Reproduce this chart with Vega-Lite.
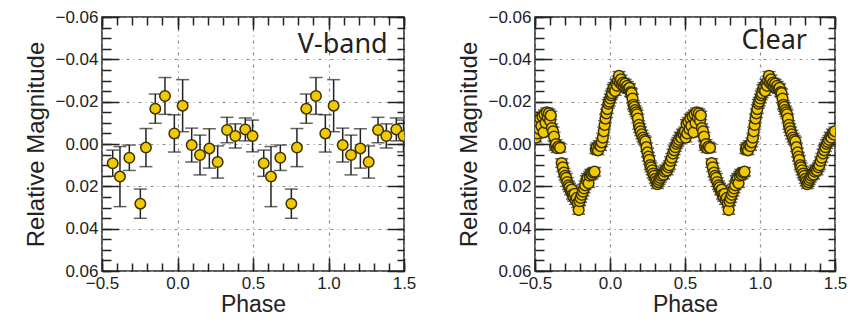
{
  "$schema": "https://vega.github.io/schema/vega-lite/v6.json",
  "padding": {"left": 24, "top": 7, "right": 4, "bottom": 4},
  "background": "white",
  "spacing": 40,
  "datasets": {
    "vband": [
      {"phase": -0.429, "mag": 0.0091, "err": 0.0062},
      {"phase": -0.381, "mag": 0.0154, "err": 0.0142},
      {"phase": -0.319, "mag": 0.0065, "err": 0.0060},
      {"phase": -0.246, "mag": 0.0282, "err": 0.0069},
      {"phase": -0.209, "mag": 0.0017, "err": 0.0090},
      {"phase": -0.147, "mag": -0.0167, "err": 0.0069},
      {"phase": -0.083, "mag": -0.0227, "err": 0.0087},
      {"phase": -0.021, "mag": -0.0050, "err": 0.0088},
      {"phase": 0.034, "mag": -0.0181, "err": 0.0123},
      {"phase": 0.094, "mag": 0.0005, "err": 0.0080},
      {"phase": 0.149, "mag": 0.0052, "err": 0.0094},
      {"phase": 0.211, "mag": 0.0021, "err": 0.0093},
      {"phase": 0.266, "mag": 0.0085, "err": 0.0076},
      {"phase": 0.328, "mag": -0.0066, "err": 0.0060},
      {"phase": 0.383, "mag": -0.0038, "err": 0.0057},
      {"phase": 0.449, "mag": -0.0069, "err": 0.0054},
      {"phase": 0.497, "mag": -0.0038, "err": 0.0075},
      {"phase": 0.571, "mag": 0.0091, "err": 0.0062},
      {"phase": 0.619, "mag": 0.0154, "err": 0.0142},
      {"phase": 0.681, "mag": 0.0065, "err": 0.0060},
      {"phase": 0.754, "mag": 0.0282, "err": 0.0069},
      {"phase": 0.791, "mag": 0.0017, "err": 0.0090},
      {"phase": 0.853, "mag": -0.0167, "err": 0.0069},
      {"phase": 0.917, "mag": -0.0227, "err": 0.0087},
      {"phase": 0.979, "mag": -0.0050, "err": 0.0088},
      {"phase": 1.034, "mag": -0.0181, "err": 0.0123},
      {"phase": 1.094, "mag": 0.0005, "err": 0.0080},
      {"phase": 1.149, "mag": 0.0052, "err": 0.0094},
      {"phase": 1.211, "mag": 0.0021, "err": 0.0093},
      {"phase": 1.266, "mag": 0.0085, "err": 0.0076},
      {"phase": 1.328, "mag": -0.0066, "err": 0.0060},
      {"phase": 1.383, "mag": -0.0038, "err": 0.0057},
      {"phase": 1.449, "mag": -0.0069, "err": 0.0054},
      {"phase": 1.497, "mag": -0.0038, "err": 0.0075}
    ],
    "clear": [
      {"phase": -0.500, "mag": -0.0065, "err": 0.002},
      {"phase": -0.495, "mag": -0.0030, "err": 0.002},
      {"phase": -0.490, "mag": -0.0095, "err": 0.002},
      {"phase": -0.485, "mag": -0.0050, "err": 0.002},
      {"phase": -0.478, "mag": -0.0105, "err": 0.002},
      {"phase": -0.470, "mag": -0.0070, "err": 0.002},
      {"phase": -0.465, "mag": -0.0120, "err": 0.002},
      {"phase": -0.458, "mag": -0.0085, "err": 0.002},
      {"phase": -0.450, "mag": -0.0130, "err": 0.002},
      {"phase": -0.443, "mag": -0.0055, "err": 0.002},
      {"phase": -0.437, "mag": -0.0140, "err": 0.002},
      {"phase": -0.430, "mag": -0.0100, "err": 0.002},
      {"phase": -0.422, "mag": -0.0150, "err": 0.002},
      {"phase": -0.415, "mag": -0.0125, "err": 0.002},
      {"phase": -0.408, "mag": -0.0145, "err": 0.002},
      {"phase": -0.400, "mag": -0.0110, "err": 0.002},
      {"phase": -0.395, "mag": -0.0135, "err": 0.002},
      {"phase": -0.388, "mag": -0.0075, "err": 0.002},
      {"phase": -0.380, "mag": -0.0060, "err": 0.002},
      {"phase": -0.373, "mag": -0.0035, "err": 0.002},
      {"phase": -0.366, "mag": 0.0010, "err": 0.002},
      {"phase": -0.360, "mag": 0.0000, "err": 0.002},
      {"phase": -0.352, "mag": 0.0020, "err": 0.002},
      {"phase": -0.343, "mag": 0.0012, "err": 0.002},
      {"phase": -0.333, "mag": 0.0018, "err": 0.002},
      {"phase": -0.322, "mag": 0.0090, "err": 0.002},
      {"phase": -0.315, "mag": 0.0110, "err": 0.002},
      {"phase": -0.307, "mag": 0.0135, "err": 0.002},
      {"phase": -0.300, "mag": 0.0150, "err": 0.002},
      {"phase": -0.292, "mag": 0.0160, "err": 0.002},
      {"phase": -0.285, "mag": 0.0180, "err": 0.002},
      {"phase": -0.277, "mag": 0.0195, "err": 0.002},
      {"phase": -0.270, "mag": 0.0205, "err": 0.002},
      {"phase": -0.262, "mag": 0.0220, "err": 0.002},
      {"phase": -0.255, "mag": 0.0215, "err": 0.002},
      {"phase": -0.250, "mag": 0.0240, "err": 0.002},
      {"phase": -0.243, "mag": 0.0250, "err": 0.002},
      {"phase": -0.236, "mag": 0.0235, "err": 0.002},
      {"phase": -0.230, "mag": 0.0265, "err": 0.002},
      {"phase": -0.222, "mag": 0.0255, "err": 0.002},
      {"phase": -0.215, "mag": 0.0280, "err": 0.002},
      {"phase": -0.209, "mag": 0.0312, "err": 0.002},
      {"phase": -0.203, "mag": 0.0270, "err": 0.002},
      {"phase": -0.196, "mag": 0.0255, "err": 0.002},
      {"phase": -0.188, "mag": 0.0240, "err": 0.002},
      {"phase": -0.180, "mag": 0.0225, "err": 0.002},
      {"phase": -0.173, "mag": 0.0210, "err": 0.002},
      {"phase": -0.166, "mag": 0.0195, "err": 0.002},
      {"phase": -0.158, "mag": 0.0170, "err": 0.002},
      {"phase": -0.150, "mag": 0.0160, "err": 0.002},
      {"phase": -0.143, "mag": 0.0185, "err": 0.002},
      {"phase": -0.136, "mag": 0.0150, "err": 0.002},
      {"phase": -0.128, "mag": 0.0140, "err": 0.002},
      {"phase": -0.120, "mag": 0.0145, "err": 0.002},
      {"phase": -0.112, "mag": 0.0135, "err": 0.002},
      {"phase": -0.103, "mag": 0.0131, "err": 0.002},
      {"phase": -0.095, "mag": 0.0025, "err": 0.002},
      {"phase": -0.088, "mag": 0.0015, "err": 0.002},
      {"phase": -0.080, "mag": 0.0030, "err": 0.002},
      {"phase": -0.072, "mag": 0.0005, "err": 0.002},
      {"phase": -0.063, "mag": 0.0010, "err": 0.002},
      {"phase": -0.055, "mag": -0.0008, "err": 0.002},
      {"phase": -0.048, "mag": -0.0030, "err": 0.002},
      {"phase": -0.042, "mag": -0.0060, "err": 0.002},
      {"phase": -0.036, "mag": -0.0090, "err": 0.002},
      {"phase": -0.030, "mag": -0.0120, "err": 0.002},
      {"phase": -0.024, "mag": -0.0145, "err": 0.002},
      {"phase": -0.018, "mag": -0.0165, "err": 0.002},
      {"phase": -0.011, "mag": -0.0190, "err": 0.002},
      {"phase": -0.005, "mag": -0.0200, "err": 0.002},
      {"phase": 0.002, "mag": -0.0215, "err": 0.002},
      {"phase": 0.008, "mag": -0.0230, "err": 0.002},
      {"phase": 0.014, "mag": -0.0240, "err": 0.002},
      {"phase": 0.020, "mag": -0.0260, "err": 0.002},
      {"phase": 0.027, "mag": -0.0270, "err": 0.002},
      {"phase": 0.034, "mag": -0.0250, "err": 0.002},
      {"phase": 0.040, "mag": -0.0285, "err": 0.002},
      {"phase": 0.047, "mag": -0.0275, "err": 0.002},
      {"phase": 0.053, "mag": -0.0300, "err": 0.002},
      {"phase": 0.060, "mag": -0.0322, "err": 0.002},
      {"phase": 0.066, "mag": -0.0290, "err": 0.002},
      {"phase": 0.073, "mag": -0.0305, "err": 0.002},
      {"phase": 0.080, "mag": -0.0280, "err": 0.002},
      {"phase": 0.087, "mag": -0.0290, "err": 0.002},
      {"phase": 0.094, "mag": -0.0270, "err": 0.002},
      {"phase": 0.101, "mag": -0.0285, "err": 0.002},
      {"phase": 0.108, "mag": -0.0265, "err": 0.002},
      {"phase": 0.115, "mag": -0.0275, "err": 0.002},
      {"phase": 0.122, "mag": -0.0260, "err": 0.002},
      {"phase": 0.130, "mag": -0.0265, "err": 0.002},
      {"phase": 0.137, "mag": -0.0245, "err": 0.002},
      {"phase": 0.144, "mag": -0.0240, "err": 0.002},
      {"phase": 0.150, "mag": -0.0215, "err": 0.002},
      {"phase": 0.156, "mag": -0.0185, "err": 0.002},
      {"phase": 0.162, "mag": -0.0175, "err": 0.002},
      {"phase": 0.168, "mag": -0.0160, "err": 0.002},
      {"phase": 0.174, "mag": -0.0150, "err": 0.002},
      {"phase": 0.180, "mag": -0.0140, "err": 0.002},
      {"phase": 0.186, "mag": -0.0120, "err": 0.002},
      {"phase": 0.192, "mag": -0.0090, "err": 0.002},
      {"phase": 0.198, "mag": -0.0075, "err": 0.002},
      {"phase": 0.204, "mag": -0.0060, "err": 0.002},
      {"phase": 0.212, "mag": -0.0045, "err": 0.002},
      {"phase": 0.220, "mag": -0.0030, "err": 0.002},
      {"phase": 0.228, "mag": -0.0020, "err": 0.002},
      {"phase": 0.236, "mag": -0.0012, "err": 0.002},
      {"phase": 0.243, "mag": 0.0015, "err": 0.002},
      {"phase": 0.250, "mag": 0.0040, "err": 0.002},
      {"phase": 0.256, "mag": 0.0060, "err": 0.002},
      {"phase": 0.262, "mag": 0.0075, "err": 0.002},
      {"phase": 0.268, "mag": 0.0100, "err": 0.002},
      {"phase": 0.274, "mag": 0.0110, "err": 0.002},
      {"phase": 0.281, "mag": 0.0125, "err": 0.002},
      {"phase": 0.288, "mag": 0.0140, "err": 0.002},
      {"phase": 0.295, "mag": 0.0150, "err": 0.002},
      {"phase": 0.302, "mag": 0.0165, "err": 0.002},
      {"phase": 0.309, "mag": 0.0175, "err": 0.002},
      {"phase": 0.316, "mag": 0.0190, "err": 0.002},
      {"phase": 0.322, "mag": 0.0180, "err": 0.002},
      {"phase": 0.328, "mag": 0.0170, "err": 0.002},
      {"phase": 0.335, "mag": 0.0160, "err": 0.002},
      {"phase": 0.342, "mag": 0.0150, "err": 0.002},
      {"phase": 0.350, "mag": 0.0140, "err": 0.002},
      {"phase": 0.357, "mag": 0.0145, "err": 0.002},
      {"phase": 0.364, "mag": 0.0130, "err": 0.002},
      {"phase": 0.372, "mag": 0.0120, "err": 0.002},
      {"phase": 0.380, "mag": 0.0125, "err": 0.002},
      {"phase": 0.388, "mag": 0.0110, "err": 0.002},
      {"phase": 0.396, "mag": 0.0100, "err": 0.002},
      {"phase": 0.404, "mag": 0.0080, "err": 0.002},
      {"phase": 0.412, "mag": 0.0065, "err": 0.002},
      {"phase": 0.420, "mag": 0.0045, "err": 0.002},
      {"phase": 0.428, "mag": 0.0030, "err": 0.002},
      {"phase": 0.436, "mag": 0.0015, "err": 0.002},
      {"phase": 0.444, "mag": 0.0000, "err": 0.002},
      {"phase": 0.452, "mag": -0.0010, "err": 0.002},
      {"phase": 0.460, "mag": -0.0020, "err": 0.002},
      {"phase": 0.468, "mag": -0.0035, "err": 0.002},
      {"phase": 0.476, "mag": -0.0030, "err": 0.002},
      {"phase": 0.484, "mag": -0.0050, "err": 0.002},
      {"phase": 0.492, "mag": -0.0045, "err": 0.002},
      {"phase": 0.499, "mag": -0.0060, "err": 0.002},
      {"phase": 0.505, "mag": -0.0030, "err": 0.002},
      {"phase": 0.510, "mag": -0.0095, "err": 0.002},
      {"phase": 0.515, "mag": -0.0050, "err": 0.002},
      {"phase": 0.522, "mag": -0.0105, "err": 0.002},
      {"phase": 0.530, "mag": -0.0070, "err": 0.002},
      {"phase": 0.535, "mag": -0.0120, "err": 0.002},
      {"phase": 0.542, "mag": -0.0085, "err": 0.002},
      {"phase": 0.550, "mag": -0.0130, "err": 0.002},
      {"phase": 0.557, "mag": -0.0055, "err": 0.002},
      {"phase": 0.563, "mag": -0.0140, "err": 0.002},
      {"phase": 0.570, "mag": -0.0100, "err": 0.002},
      {"phase": 0.578, "mag": -0.0150, "err": 0.002},
      {"phase": 0.585, "mag": -0.0125, "err": 0.002},
      {"phase": 0.592, "mag": -0.0145, "err": 0.002},
      {"phase": 0.600, "mag": -0.0110, "err": 0.002},
      {"phase": 0.605, "mag": -0.0135, "err": 0.002},
      {"phase": 0.612, "mag": -0.0075, "err": 0.002},
      {"phase": 0.620, "mag": -0.0060, "err": 0.002},
      {"phase": 0.627, "mag": -0.0035, "err": 0.002},
      {"phase": 0.634, "mag": 0.0010, "err": 0.002},
      {"phase": 0.640, "mag": 0.0000, "err": 0.002},
      {"phase": 0.648, "mag": 0.0020, "err": 0.002},
      {"phase": 0.657, "mag": 0.0012, "err": 0.002},
      {"phase": 0.667, "mag": 0.0018, "err": 0.002},
      {"phase": 0.678, "mag": 0.0090, "err": 0.002},
      {"phase": 0.685, "mag": 0.0110, "err": 0.002},
      {"phase": 0.693, "mag": 0.0135, "err": 0.002},
      {"phase": 0.700, "mag": 0.0150, "err": 0.002},
      {"phase": 0.708, "mag": 0.0160, "err": 0.002},
      {"phase": 0.715, "mag": 0.0180, "err": 0.002},
      {"phase": 0.723, "mag": 0.0195, "err": 0.002},
      {"phase": 0.730, "mag": 0.0205, "err": 0.002},
      {"phase": 0.738, "mag": 0.0220, "err": 0.002},
      {"phase": 0.745, "mag": 0.0215, "err": 0.002},
      {"phase": 0.750, "mag": 0.0240, "err": 0.002},
      {"phase": 0.757, "mag": 0.0250, "err": 0.002},
      {"phase": 0.764, "mag": 0.0235, "err": 0.002},
      {"phase": 0.770, "mag": 0.0265, "err": 0.002},
      {"phase": 0.778, "mag": 0.0255, "err": 0.002},
      {"phase": 0.785, "mag": 0.0280, "err": 0.002},
      {"phase": 0.791, "mag": 0.0312, "err": 0.002},
      {"phase": 0.797, "mag": 0.0270, "err": 0.002},
      {"phase": 0.804, "mag": 0.0255, "err": 0.002},
      {"phase": 0.812, "mag": 0.0240, "err": 0.002},
      {"phase": 0.820, "mag": 0.0225, "err": 0.002},
      {"phase": 0.827, "mag": 0.0210, "err": 0.002},
      {"phase": 0.834, "mag": 0.0195, "err": 0.002},
      {"phase": 0.842, "mag": 0.0170, "err": 0.002},
      {"phase": 0.850, "mag": 0.0160, "err": 0.002},
      {"phase": 0.857, "mag": 0.0185, "err": 0.002},
      {"phase": 0.864, "mag": 0.0150, "err": 0.002},
      {"phase": 0.872, "mag": 0.0140, "err": 0.002},
      {"phase": 0.880, "mag": 0.0145, "err": 0.002},
      {"phase": 0.888, "mag": 0.0135, "err": 0.002},
      {"phase": 0.897, "mag": 0.0131, "err": 0.002},
      {"phase": 0.905, "mag": 0.0025, "err": 0.002},
      {"phase": 0.912, "mag": 0.0015, "err": 0.002},
      {"phase": 0.920, "mag": 0.0030, "err": 0.002},
      {"phase": 0.928, "mag": 0.0005, "err": 0.002},
      {"phase": 0.937, "mag": 0.0010, "err": 0.002},
      {"phase": 0.945, "mag": -0.0008, "err": 0.002},
      {"phase": 0.952, "mag": -0.0030, "err": 0.002},
      {"phase": 0.958, "mag": -0.0060, "err": 0.002},
      {"phase": 0.964, "mag": -0.0090, "err": 0.002},
      {"phase": 0.970, "mag": -0.0120, "err": 0.002},
      {"phase": 0.976, "mag": -0.0145, "err": 0.002},
      {"phase": 0.982, "mag": -0.0165, "err": 0.002},
      {"phase": 0.989, "mag": -0.0190, "err": 0.002},
      {"phase": 0.995, "mag": -0.0200, "err": 0.002},
      {"phase": 1.002, "mag": -0.0215, "err": 0.002},
      {"phase": 1.008, "mag": -0.0230, "err": 0.002},
      {"phase": 1.014, "mag": -0.0240, "err": 0.002},
      {"phase": 1.020, "mag": -0.0260, "err": 0.002},
      {"phase": 1.027, "mag": -0.0270, "err": 0.002},
      {"phase": 1.034, "mag": -0.0250, "err": 0.002},
      {"phase": 1.040, "mag": -0.0285, "err": 0.002},
      {"phase": 1.047, "mag": -0.0275, "err": 0.002},
      {"phase": 1.053, "mag": -0.0300, "err": 0.002},
      {"phase": 1.060, "mag": -0.0322, "err": 0.002},
      {"phase": 1.066, "mag": -0.0290, "err": 0.002},
      {"phase": 1.073, "mag": -0.0305, "err": 0.002},
      {"phase": 1.080, "mag": -0.0280, "err": 0.002},
      {"phase": 1.087, "mag": -0.0290, "err": 0.002},
      {"phase": 1.094, "mag": -0.0270, "err": 0.002},
      {"phase": 1.101, "mag": -0.0285, "err": 0.002},
      {"phase": 1.108, "mag": -0.0265, "err": 0.002},
      {"phase": 1.115, "mag": -0.0275, "err": 0.002},
      {"phase": 1.122, "mag": -0.0260, "err": 0.002},
      {"phase": 1.130, "mag": -0.0265, "err": 0.002},
      {"phase": 1.137, "mag": -0.0245, "err": 0.002},
      {"phase": 1.144, "mag": -0.0240, "err": 0.002},
      {"phase": 1.150, "mag": -0.0215, "err": 0.002},
      {"phase": 1.156, "mag": -0.0185, "err": 0.002},
      {"phase": 1.162, "mag": -0.0175, "err": 0.002},
      {"phase": 1.168, "mag": -0.0160, "err": 0.002},
      {"phase": 1.174, "mag": -0.0150, "err": 0.002},
      {"phase": 1.180, "mag": -0.0140, "err": 0.002},
      {"phase": 1.186, "mag": -0.0120, "err": 0.002},
      {"phase": 1.192, "mag": -0.0090, "err": 0.002},
      {"phase": 1.198, "mag": -0.0075, "err": 0.002},
      {"phase": 1.204, "mag": -0.0060, "err": 0.002},
      {"phase": 1.212, "mag": -0.0045, "err": 0.002},
      {"phase": 1.220, "mag": -0.0030, "err": 0.002},
      {"phase": 1.228, "mag": -0.0020, "err": 0.002},
      {"phase": 1.236, "mag": -0.0012, "err": 0.002},
      {"phase": 1.243, "mag": 0.0015, "err": 0.002},
      {"phase": 1.250, "mag": 0.0040, "err": 0.002},
      {"phase": 1.256, "mag": 0.0060, "err": 0.002},
      {"phase": 1.262, "mag": 0.0075, "err": 0.002},
      {"phase": 1.268, "mag": 0.0100, "err": 0.002},
      {"phase": 1.274, "mag": 0.0110, "err": 0.002},
      {"phase": 1.281, "mag": 0.0125, "err": 0.002},
      {"phase": 1.288, "mag": 0.0140, "err": 0.002},
      {"phase": 1.295, "mag": 0.0150, "err": 0.002},
      {"phase": 1.302, "mag": 0.0165, "err": 0.002},
      {"phase": 1.309, "mag": 0.0175, "err": 0.002},
      {"phase": 1.316, "mag": 0.0190, "err": 0.002},
      {"phase": 1.322, "mag": 0.0180, "err": 0.002},
      {"phase": 1.328, "mag": 0.0170, "err": 0.002},
      {"phase": 1.335, "mag": 0.0160, "err": 0.002},
      {"phase": 1.342, "mag": 0.0150, "err": 0.002},
      {"phase": 1.350, "mag": 0.0140, "err": 0.002},
      {"phase": 1.357, "mag": 0.0145, "err": 0.002},
      {"phase": 1.364, "mag": 0.0130, "err": 0.002},
      {"phase": 1.372, "mag": 0.0120, "err": 0.002},
      {"phase": 1.380, "mag": 0.0125, "err": 0.002},
      {"phase": 1.388, "mag": 0.0110, "err": 0.002},
      {"phase": 1.396, "mag": 0.0100, "err": 0.002},
      {"phase": 1.404, "mag": 0.0080, "err": 0.002},
      {"phase": 1.412, "mag": 0.0065, "err": 0.002},
      {"phase": 1.420, "mag": 0.0045, "err": 0.002},
      {"phase": 1.428, "mag": 0.0030, "err": 0.002},
      {"phase": 1.436, "mag": 0.0015, "err": 0.002},
      {"phase": 1.444, "mag": 0.0000, "err": 0.002},
      {"phase": 1.452, "mag": -0.0010, "err": 0.002},
      {"phase": 1.460, "mag": -0.0020, "err": 0.002},
      {"phase": 1.468, "mag": -0.0035, "err": 0.002},
      {"phase": 1.476, "mag": -0.0030, "err": 0.002},
      {"phase": 1.484, "mag": -0.0050, "err": 0.002},
      {"phase": 1.492, "mag": -0.0045, "err": 0.002},
      {"phase": 1.499, "mag": -0.0060, "err": 0.002}
    ]
  },
  "hconcat": [
    {
      "width": 302,
      "height": 254,
      "data": {"name": "vband"},
      "layer": [
        {
          "mark": {"type": "errorbar", "ticks": {"size": 13}, "color": "#222", "thickness": 1.5, "clip": true},
          "encoding": {
            "x": {"field": "phase", "type": "quantitative", "scale": {"domain": [-0.5, 1.5], "nice": false, "zero": false}, "axis": null},
            "y": {"field": "mag", "type": "quantitative", "scale": {"domain": [-0.06, 0.06], "nice": false, "zero": false, "reverse": true}, "axis": null},
            "yError": {"field": "err"}
          }
        },
        {
          "mark": {"type": "point", "filled": true, "shape": "circle", "size": 110, "fill": "#f2c800", "stroke": "#3a3200", "strokeWidth": 1.5, "opacity": 1, "clip": true},
          "encoding": {
            "x": {"field": "phase", "type": "quantitative", "scale": {"domain": [-0.5, 1.5], "nice": false, "zero": false},
              "axis": {"orient": "bottom", "values": [-0.5, 0, 0.5, 1, 1.5], "format": ".1f", "grid": true, "gridColor": "#8c8c8c", "gridDash": [3, 4, 1, 4], "gridWidth": 1.2, "domain": false, "tickSize": -13, "tickWidth": 1.5, "tickColor": "#222", "labelPadding": 17, "labelFontSize": 17, "labelColor": "#222", "labelFlush": false, "labelOverlap": false, "title": "Phase", "titleFontSize": 23, "titleFontWeight": "normal", "titleColor": "#222", "titlePadding": 2}},
            "y": {"field": "mag", "type": "quantitative", "scale": {"domain": [-0.06, 0.06], "nice": false, "zero": false, "reverse": true},
              "axis": {"orient": "left", "values": [-0.06, -0.04, -0.02, 0, 0.02, 0.04, 0.06], "format": ".2f", "grid": true, "gridColor": "#8c8c8c", "gridDash": [3, 4, 1, 4], "gridWidth": 1.2, "domain": false, "tickSize": -17, "tickWidth": 1.5, "tickColor": "#222", "labelPadding": 21, "labelFontSize": 17, "labelColor": "#222", "labelFlush": false, "labelOverlap": false, "title": "Relative Magnitude", "titleFontSize": 24, "titleFontWeight": "normal", "titleColor": "#222", "titlePadding": 6}}
          }
        },
        {
          "mark": {"type": "point", "opacity": 0},
          "encoding": {
            "x": {"field": "phase", "type": "quantitative", "scale": {"domain": [-0.5, 1.5], "nice": false, "zero": false},
              "axis": {"orient": "bottom", "values": [-0.5, -0.4, -0.3, -0.2, -0.1, 0, 0.1, 0.2, 0.3, 0.4, 0.5, 0.6, 0.7, 0.8, 0.9, 1, 1.1, 1.2, 1.3, 1.4, 1.5], "labels": false, "grid": false, "domain": false, "tickSize": -8, "tickWidth": 1.5, "tickColor": "#222", "title": null}},
            "y": {"field": "mag", "type": "quantitative", "scale": {"domain": [-0.06, 0.06], "nice": false, "zero": false, "reverse": true},
              "axis": {"orient": "left", "values": [-0.06, -0.055, -0.05, -0.045, -0.04, -0.035, -0.03, -0.025, -0.02, -0.015, -0.01, -0.005, 0, 0.005, 0.01, 0.015, 0.02, 0.025, 0.03, 0.035, 0.04, 0.045, 0.05, 0.055, 0.06], "labels": false, "grid": false, "domain": false, "tickSize": -9, "tickWidth": 1.5, "tickColor": "#222", "title": null}}
          }
        },
        {
          "mark": {"type": "point", "opacity": 0},
          "encoding": {
            "x": {"field": "phase", "type": "quantitative", "scale": {"domain": [-0.5, 1.5], "nice": false, "zero": false},
              "axis": {"orient": "top", "values": [-0.5, -0.4, -0.3, -0.2, -0.1, 0, 0.1, 0.2, 0.3, 0.4, 0.5, 0.6, 0.7, 0.8, 0.9, 1, 1.1, 1.2, 1.3, 1.4, 1.5], "labels": false, "grid": false, "domain": false, "tickSize": -8, "tickWidth": 1.5, "tickColor": "#222", "title": null}},
            "y": {"field": "mag", "type": "quantitative", "scale": {"domain": [-0.06, 0.06], "nice": false, "zero": false, "reverse": true},
              "axis": {"orient": "right", "values": [-0.06, -0.055, -0.05, -0.045, -0.04, -0.035, -0.03, -0.025, -0.02, -0.015, -0.01, -0.005, 0, 0.005, 0.01, 0.015, 0.02, 0.025, 0.03, 0.035, 0.04, 0.045, 0.05, 0.055, 0.06], "labels": false, "grid": false, "domain": false, "tickSize": -7, "tickWidth": 1.5, "tickColor": "#222", "title": null}}
          }
        },
        {
          "mark": {"type": "point", "opacity": 0},
          "encoding": {
            "x": {"field": "phase", "type": "quantitative", "scale": {"domain": [-0.5, 1.5], "nice": false, "zero": false},
              "axis": {"orient": "top", "values": [-0.5, 0, 0.5, 1, 1.5], "labels": false, "grid": false, "domain": false, "tickSize": -12, "tickWidth": 1.5, "tickColor": "#222", "title": null}},
            "y": {"field": "mag", "type": "quantitative", "scale": {"domain": [-0.06, 0.06], "nice": false, "zero": false, "reverse": true},
              "axis": {"orient": "right", "values": [-0.06, -0.04, -0.02, 0, 0.02, 0.04, 0.06], "labels": false, "grid": false, "domain": false, "tickSize": -17, "tickWidth": 1.5, "tickColor": "#222", "title": null}}
          }
        },
        {
          "data": {"values": [{"band": "V-band"}]},
          "mark": {"type": "text", "align": "right", "baseline": "alphabetic", "font": "Noto Sans", "fontSize": 27, "color": "#222"},
          "encoding": {
            "x": {"datum": 1.392, "type": "quantitative", "axis": null},
            "y": {"datum": -0.0431, "type": "quantitative", "axis": null},
            "text": {"field": "band"}
          }
        }
      ],
      "resolve": {"axis": {"x": "independent", "y": "independent"}}
    },
    {
      "width": 300,
      "height": 254,
      "data": {"name": "clear"},
      "layer": [
        {
          "mark": {"type": "errorbar", "ticks": {"size": 13}, "color": "#222", "thickness": 1.5, "clip": true},
          "encoding": {
            "x": {"field": "phase", "type": "quantitative", "scale": {"domain": [-0.5, 1.5], "nice": false, "zero": false}, "axis": null},
            "y": {"field": "mag", "type": "quantitative", "scale": {"domain": [-0.06, 0.06], "nice": false, "zero": false, "reverse": true}, "axis": null},
            "yError": {"field": "err"}
          }
        },
        {
          "mark": {"type": "point", "filled": true, "shape": "circle", "size": 115, "fill": "#f2c800", "stroke": "#3a3200", "strokeWidth": 1.5, "opacity": 1, "clip": true},
          "encoding": {
            "x": {"field": "phase", "type": "quantitative", "scale": {"domain": [-0.5, 1.5], "nice": false, "zero": false},
              "axis": {"orient": "bottom", "values": [-0.5, 0, 0.5, 1, 1.5], "format": ".1f", "grid": true, "gridColor": "#8c8c8c", "gridDash": [3, 4, 1, 4], "gridWidth": 1.2, "domain": false, "tickSize": -13, "tickWidth": 1.5, "tickColor": "#222", "labelPadding": 17, "labelFontSize": 17, "labelColor": "#222", "labelFlush": false, "labelOverlap": false, "title": "Phase", "titleFontSize": 23, "titleFontWeight": "normal", "titleColor": "#222", "titlePadding": 2}},
            "y": {"field": "mag", "type": "quantitative", "scale": {"domain": [-0.06, 0.06], "nice": false, "zero": false, "reverse": true},
              "axis": {"orient": "left", "values": [-0.06, -0.04, -0.02, 0, 0.02, 0.04, 0.06], "format": ".2f", "grid": true, "gridColor": "#8c8c8c", "gridDash": [3, 4, 1, 4], "gridWidth": 1.2, "domain": false, "tickSize": -17, "tickWidth": 1.5, "tickColor": "#222", "labelPadding": 21, "labelFontSize": 17, "labelColor": "#222", "labelFlush": false, "labelOverlap": false, "title": "Relative Magnitude", "titleFontSize": 24, "titleFontWeight": "normal", "titleColor": "#222", "titlePadding": 6}}
          }
        },
        {
          "mark": {"type": "point", "opacity": 0},
          "encoding": {
            "x": {"field": "phase", "type": "quantitative", "scale": {"domain": [-0.5, 1.5], "nice": false, "zero": false},
              "axis": {"orient": "bottom", "values": [-0.5, -0.4, -0.3, -0.2, -0.1, 0, 0.1, 0.2, 0.3, 0.4, 0.5, 0.6, 0.7, 0.8, 0.9, 1, 1.1, 1.2, 1.3, 1.4, 1.5], "labels": false, "grid": false, "domain": false, "tickSize": -8, "tickWidth": 1.5, "tickColor": "#222", "title": null}},
            "y": {"field": "mag", "type": "quantitative", "scale": {"domain": [-0.06, 0.06], "nice": false, "zero": false, "reverse": true},
              "axis": {"orient": "left", "values": [-0.06, -0.055, -0.05, -0.045, -0.04, -0.035, -0.03, -0.025, -0.02, -0.015, -0.01, -0.005, 0, 0.005, 0.01, 0.015, 0.02, 0.025, 0.03, 0.035, 0.04, 0.045, 0.05, 0.055, 0.06], "labels": false, "grid": false, "domain": false, "tickSize": -9, "tickWidth": 1.5, "tickColor": "#222", "title": null}}
          }
        },
        {
          "mark": {"type": "point", "opacity": 0},
          "encoding": {
            "x": {"field": "phase", "type": "quantitative", "scale": {"domain": [-0.5, 1.5], "nice": false, "zero": false},
              "axis": {"orient": "top", "values": [-0.5, -0.4, -0.3, -0.2, -0.1, 0, 0.1, 0.2, 0.3, 0.4, 0.5, 0.6, 0.7, 0.8, 0.9, 1, 1.1, 1.2, 1.3, 1.4, 1.5], "labels": false, "grid": false, "domain": false, "tickSize": -8, "tickWidth": 1.5, "tickColor": "#222", "title": null}},
            "y": {"field": "mag", "type": "quantitative", "scale": {"domain": [-0.06, 0.06], "nice": false, "zero": false, "reverse": true},
              "axis": {"orient": "right", "values": [-0.06, -0.055, -0.05, -0.045, -0.04, -0.035, -0.03, -0.025, -0.02, -0.015, -0.01, -0.005, 0, 0.005, 0.01, 0.015, 0.02, 0.025, 0.03, 0.035, 0.04, 0.045, 0.05, 0.055, 0.06], "labels": false, "grid": false, "domain": false, "tickSize": -7, "tickWidth": 1.5, "tickColor": "#222", "title": null}}
          }
        },
        {
          "mark": {"type": "point", "opacity": 0},
          "encoding": {
            "x": {"field": "phase", "type": "quantitative", "scale": {"domain": [-0.5, 1.5], "nice": false, "zero": false},
              "axis": {"orient": "top", "values": [-0.5, 0, 0.5, 1, 1.5], "labels": false, "grid": false, "domain": false, "tickSize": -12, "tickWidth": 1.5, "tickColor": "#222", "title": null}},
            "y": {"field": "mag", "type": "quantitative", "scale": {"domain": [-0.06, 0.06], "nice": false, "zero": false, "reverse": true},
              "axis": {"orient": "right", "values": [-0.06, -0.04, -0.02, 0, 0.02, 0.04, 0.06], "labels": false, "grid": false, "domain": false, "tickSize": -17, "tickWidth": 1.5, "tickColor": "#222", "title": null}}
          }
        },
        {
          "data": {"values": [{"band": "Clear"}]},
          "mark": {"type": "text", "align": "right", "baseline": "alphabetic", "font": "Noto Sans", "fontSize": 27, "color": "#222"},
          "encoding": {
            "x": {"datum": 1.313, "type": "quantitative", "axis": null},
            "y": {"datum": -0.0447, "type": "quantitative", "axis": null},
            "text": {"field": "band"}
          }
        }
      ],
      "resolve": {"axis": {"x": "independent", "y": "independent"}}
    }
  ],
  "config": {
    "font": "Liberation Sans",
    "view": {"stroke": "#222", "strokeWidth": 1.5},
    "axis": {"labelFont": "Liberation Sans", "titleFont": "Liberation Sans"}
  }
}
